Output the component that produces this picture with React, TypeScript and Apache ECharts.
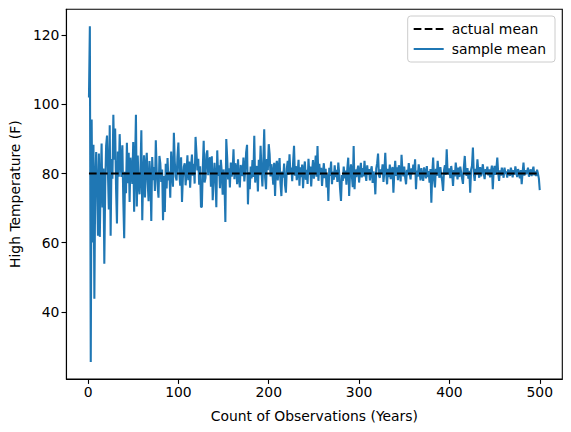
import { useEffect, useRef } from 'react';
import * as echarts from 'echarts';

const sampleMean: number[] = [
  102.0, 122.6, 25.5, 95.6, 60.1, 88.3, 43.8, 78.6, 86.2, 75.4, 62.0, 85.8, 61.7, 78.0, 88.7, 70.2, 81.5, 53.9, 76.3, 88.0,
  91.0, 80.4, 69.6, 94.0, 62.0, 84.2, 78.5, 97.0, 84.0, 93.0, 75.6, 65.6, 86.4, 79.1, 91.4, 83.0, 79.0, 88.2, 72.4, 61.3,
  80.5, 74.3, 88.9, 77.2, 86.0, 71.8, 84.6, 80.9, 77.0, 89.1, 69.0, 82.3, 97.0, 70.5, 85.2, 76.8, 74.0, 80.2, 92.5, 66.5,
  79.4, 85.3, 73.1, 82.0, 86.0, 77.5, 72.0, 83.6, 79.2, 66.3, 84.8, 78.1, 81.9, 75.0, 89.6, 80.7, 76.4, 73.0, 85.1, 83.0,
  77.6, 81.2, 66.5, 79.3, 68.9, 82.8, 75.7, 84.5, 78.0, 80.6, 73.0, 86.4, 79.8, 76.2, 91.8, 83.4, 79.1, 78.0, 85.0, 89.0,
  80.2, 76.5, 84.7, 71.8, 78.9, 82.0, 83.0, 76.6, 80.4, 85.3, 78.1, 83.5, 75.9, 81.7, 85.5, 79.4, 82.8, 77.1, 90.6, 86.0,
  80.9, 84.3, 76.8, 82.1, 70.3, 70.4, 81.6, 89.5, 77.4, 78.8, 85.6, 86.7, 79.5, 83.7, 84.7, 76.2, 85.0, 72.3, 78.5, 83.1,
  78.5, 70.3, 86.7, 79.3, 82.4, 75.8, 84.0, 80.6, 73.9, 81.2, 77.4, 66.0, 90.0, 84.6, 78.3, 81.5, 76.0, 83.2, 79.1, 80.7,
  87.0, 78.4, 83.0, 81.7, 76.9, 84.1, 78.8, 76.0, 82.5, 80.1, 79.3, 84.6, 77.7, 81.0, 86.2, 88.3, 71.1, 80.4, 75.5, 82.0,
  78.6, 83.9, 79.0, 90.9, 77.4, 81.3, 82.2, 74.8, 84.0, 79.5, 88.0, 80.6, 76.3, 83.4, 92.8, 78.8, 75.5, 84.2, 81.0, 88.5,
  85.6, 79.2, 82.7, 80.3, 76.8, 83.1, 73.5, 81.9, 83.7, 78.0, 81.7, 84.5, 77.2, 73.5, 80.6, 78.8, 82.9, 76.7, 74.5, 81.4,
  83.7, 79.6, 85.6, 80.0, 81.7, 77.8, 83.3, 88.0, 79.4, 82.2, 78.1, 80.3, 84.0, 76.5, 81.8, 79.0, 82.6, 75.8, 80.9, 83.5,
  78.2, 81.1, 77.0, 84.3, 79.7, 82.0, 76.3, 80.8, 83.9, 78.5, 81.0, 85.2, 79.1, 88.0, 77.9, 82.8, 79.6, 81.7, 76.4, 80.2,
  83.0, 78.7, 81.4, 76.0, 79.8, 72.1, 81.7, 79.3, 83.5, 76.9, 80.6, 78.2, 82.4, 79.0, 81.1, 77.6, 83.2, 80.0, 75.4, 72.1,
  79.6, 77.9, 82.0, 78.6, 80.9, 76.8, 81.5, 84.6, 73.5, 80.2, 82.7, 79.4, 76.1, 88.0, 75.5, 81.2, 79.0, 80.8, 82.3, 77.4,
  80.5, 83.1, 78.9, 81.6, 79.2, 83.7, 80.0, 77.9, 82.4, 79.6, 81.3, 78.0, 80.9, 82.1, 77.3, 80.6, 79.1, 74.0, 81.5, 83.0,
  85.8, 79.4, 78.8, 81.2, 80.0, 82.7, 77.6, 80.5, 86.0, 79.9, 76.9, 81.4, 79.0, 82.6, 78.4, 80.7, 81.9, 74.5, 80.2, 83.7,
  79.3, 81.8, 78.1, 82.4, 80.6, 77.7, 85.4, 80.8, 79.2, 82.0, 78.9, 76.9, 81.1, 79.6, 83.0, 80.1, 78.3, 81.5, 79.8, 82.6,
  80.4, 84.1, 75.5, 80.9, 79.1, 82.7, 80.2, 78.0, 81.6, 79.4, 77.9, 81.8, 80.5, 78.6, 82.2, 79.0, 80.7, 77.4, 81.3, 71.6,
  80.1, 84.6, 78.2, 76.0, 81.4, 79.3, 83.7, 80.5, 78.8, 81.9, 79.5, 77.8, 75.0, 80.9, 82.4, 79.6, 87.0, 80.2, 79.8, 81.5,
  78.7, 82.2, 80.0, 76.4, 81.0, 79.2, 83.2, 80.6, 78.3, 81.7, 79.0, 82.0, 80.4, 78.6, 77.0, 81.9, 85.1, 80.3, 79.4, 81.6,
  78.5, 80.8, 74.5, 81.1, 82.3, 87.5, 80.0, 77.9, 81.4, 79.7, 84.1, 80.5, 78.8, 81.9, 79.2, 80.6, 82.7, 79.9, 78.4, 81.3,
  80.1, 82.0, 79.5, 81.2, 78.9, 80.7, 82.3, 75.5, 80.8, 82.2, 79.6, 81.5, 84.6, 80.2, 77.9, 80.9, 79.4, 81.7, 80.3, 78.8,
  81.7, 79.9, 80.6, 78.8, 81.2, 80.0, 79.3, 81.7, 80.5, 78.9, 81.0, 79.7, 82.1, 80.4, 79.0, 81.3, 80.2, 78.6, 81.0, 76.9,
  80.3, 83.2, 79.4, 81.0, 79.8, 80.6, 81.7, 79.1, 80.4, 81.2, 79.3, 80.8, 82.0, 79.5, 80.6, 79.3, 81.1, 80.0, 78.6, 75.2,
];

const actualMean = 80;
const xTicks = [0, 100, 200, 300, 400, 500];
const yTicks = [40, 60, 80, 100, 120];

export default function App() {
  const chartRef = useRef<HTMLDivElement>(null);

  useEffect(() => {
    if (!chartRef.current) return;
    document.body.style.margin = '0';
    const chart = echarts.init(chartRef.current, undefined, { renderer: 'svg' });

    const font = 'DejaVu Sans';
    const samplePts = sampleMean.map((v, i) => [i + 1, v]);
    const meanPts = [[1, actualMean], [sampleMean.length, actualMean]];

    const axisLine = { show: true, onZero: false, lineStyle: { color: '#000', width: 1.1 } };
    const tickStyle = { color: '#000', width: 1.1 };

    chart.setOption({
      animation: false,
      backgroundColor: '#fff',
      textStyle: { fontFamily: font },
      grid: {
        left: 66.3, right: 8.7, top: 9.3, bottom: 53,
        show: true, borderColor: '#000', borderWidth: 1.1,
      },
      legend: {
        orient: 'vertical',
        right: 16, top: 16,
        data: ['actual mean', 'sample mean'],
        itemWidth: 30, itemHeight: 14, itemGap: 6,
        padding: [6, 9, 6, 5],
        itemStyle: { opacity: 0 },
        backgroundColor: 'rgba(255,255,255,0.8)',
        borderColor: '#cccccc', borderWidth: 1, borderRadius: 3,
        textStyle: { fontFamily: font, fontSize: 13.9, color: '#000', padding: [0, 0, 0, 3] },
      },
      xAxis: {
        type: 'value', min: -23.95, max: 524.95,
        name: 'Count of Observations (Years)', nameLocation: 'middle', nameGap: 30,
        nameTextStyle: { fontFamily: font, fontSize: 13.9, color: '#000' },
        splitLine: { show: false },
        axisLine,
        axisTick: { show: true, length: 4.9, lineStyle: tickStyle, customValues: xTicks },
        axisLabel: { fontFamily: font, fontSize: 13.9, color: '#000', margin: 6, customValues: xTicks },
      },
      yAxis: {
        type: 'value', min: 20.6, max: 127.5,
        name: 'High Temperature (F)', nameLocation: 'middle', nameGap: 41, nameRotate: 90,
        nameTextStyle: { fontFamily: font, fontSize: 13.9, color: '#000' },
        splitLine: { show: false },
        axisLine,
        axisTick: { show: true, length: 4.9, lineStyle: tickStyle, customValues: yTicks },
        axisLabel: { fontFamily: font, fontSize: 13.9, color: '#000', margin: 7, customValues: yTicks },
      },
      series: [
        {
          name: 'sample mean', type: 'line', data: samplePts,
          symbol: 'none', color: '#1f77b4',
          lineStyle: { color: '#1f77b4', width: 2.08 },
          z: 2,
        },
        {
          name: 'actual mean', type: 'line', data: meanPts,
          symbol: 'none', color: '#000',
          lineStyle: { color: '#000', width: 2.08, type: [7.7, 3.3] },
          z: 3,
        },
      ],
    });

    return () => { chart.dispose(); };
  }, []);

  return <div ref={chartRef} style={{ width: 571, height: 432 }} />;
}
